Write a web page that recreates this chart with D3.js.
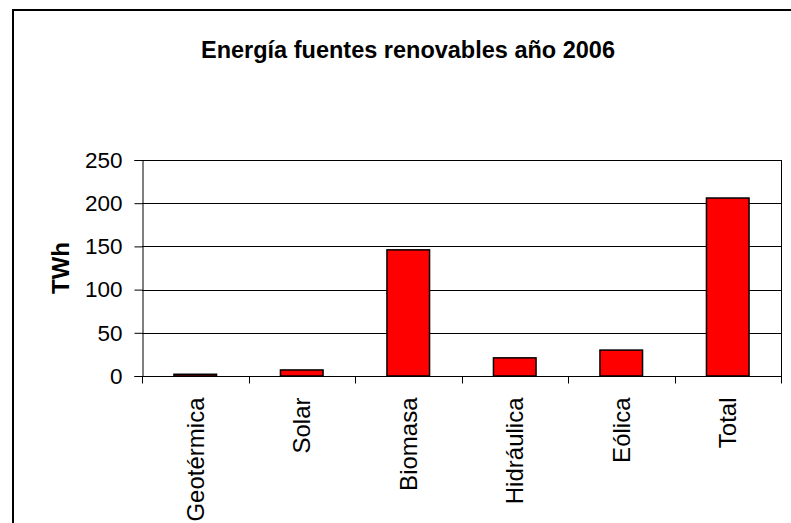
<!DOCTYPE html>
<html>
<head>
<meta charset="utf-8">
<script src="https://cdn.jsdelivr.net/npm/d3@7/dist/d3.min.js"></script>
<style>
  html, body { margin: 0; padding: 0; background: #fff; }
  svg { display: block; font-family: Arial, "Liberation Sans", sans-serif; }
</style>
</head>
<body>
<svg id="chart" width="791" height="523"></svg>
<script>
// Renewable energy sources, 2006 (TWh)
const categories = ["Geotérmica", "Solar", "Biomasa", "Hidráulica", "Eólica", "Total"];
const values = [2, 7, 146, 21, 30, 206];
const yTicks = [0, 50, 100, 150, 200, 250];
const title = "Energía fuentes renovables año 2006";
const yLabel = "TWh";

const svg = d3.select("#chart");

// outer chart frame (runs past the right and bottom edges)
svg.append("rect")
  .attr("x", 13).attr("y", 10)
  .attr("width", 800).attr("height", 560)
  .attr("fill", "none").attr("stroke", "#000").attr("stroke-width", 2);

const plot = { left: 142, right: 781, top: 160, bottom: 376 };

const x = d3.scaleBand()
  .domain(categories)
  .range([plot.left, plot.right])
  .paddingInner(0.6).paddingOuter(0.3);

const band = d3.scaleBand().domain(categories).range([plot.left, plot.right]);

const y = d3.scaleLinear().domain([0, 250]).range([plot.bottom, plot.top]);

// gridlines
svg.append("g")
  .selectAll("line")
  .data(yTicks.filter(d => d > 0))
  .join("line")
  .attr("x1", plot.left).attr("x2", plot.right)
  .attr("y1", d => Math.round(y(d)) + 0.5).attr("y2", d => Math.round(y(d)) + 0.5)
  .attr("stroke", "#000").attr("stroke-width", 1);

// right border of plot area
svg.append("line")
  .attr("x1", plot.right + 0.5).attr("x2", plot.right + 0.5)
  .attr("y1", plot.top).attr("y2", plot.bottom)
  .attr("stroke", "#000").attr("stroke-width", 1);

// bars
svg.append("g")
  .selectAll("rect")
  .data(categories.map((c, i) => ({ c, v: values[i] })))
  .join("rect")
  .attr("x", d => x(d.c))
  .attr("y", d => y(d.v))
  .attr("width", x.bandwidth())
  .attr("height", d => y(0) - y(d.v))
  .attr("fill", "#ff0000")
  .attr("stroke", "#000").attr("stroke-width", 1.5);

// y axis
const yAxis = d3.axisLeft(y).tickValues(yTicks).tickSize(8).tickPadding(12);
const gy = svg.append("g")
  .attr("transform", `translate(${plot.left + 0.5},0)`)
  .call(yAxis);
gy.select(".domain").attr("stroke", "#000");
gy.selectAll(".tick line").attr("stroke", "#000");
gy.selectAll(".tick text")
  .attr("font-size", 22.5).attr("fill", "#000")
  .attr("font-family", "Arial, 'Liberation Sans', sans-serif");

// x axis with ticks at category boundaries
const gx = svg.append("g").attr("transform", `translate(0,${plot.bottom + 0.5})`);
gx.append("line")
  .attr("x1", plot.left).attr("x2", plot.right + 1)
  .attr("stroke", "#000");
const bounds = categories.map(c => band(c)).concat([plot.right]);
gx.selectAll("line.tk")
  .data(bounds)
  .join("line")
  .attr("class", "tk")
  .attr("x1", d => Math.round(d) + 0.5).attr("x2", d => Math.round(d) + 0.5)
  .attr("y1", 0).attr("y2", 7)
  .attr("stroke", "#000");

// rotated category labels
gx.selectAll("text")
  .data(categories)
  .join("text")
  .attr("transform", d => `translate(${band(d) + band.bandwidth() / 2},21) rotate(-90)`)
  .attr("text-anchor", "end")
  .attr("dy", "0.36em")
  .attr("font-size", 24)
  .attr("fill", "#000")
  .text(d => d);

// title
svg.append("text")
  .attr("x", 408).attr("y", 58)
  .attr("text-anchor", "middle")
  .attr("font-size", 23.5).attr("font-weight", "bold")
  .text(title);

// y axis title
svg.append("text")
  .attr("transform", `translate(60,268) rotate(-90)`)
  .attr("text-anchor", "middle")
  .attr("dy", "0.36em")
  .attr("font-size", 24).attr("font-weight", "bold")
  .text(yLabel);
</script>
</body>
</html>
